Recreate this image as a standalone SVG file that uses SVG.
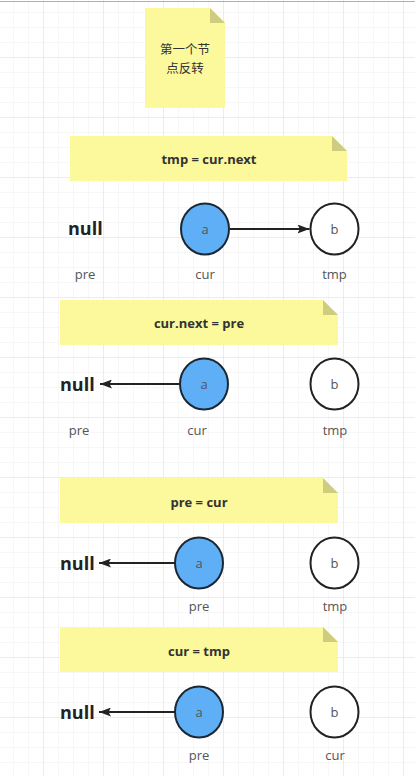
<svg xmlns="http://www.w3.org/2000/svg" width="415" height="776" viewBox="0 0 415 776">
<defs>
<pattern id="minor" x="13" y="12" width="15" height="15" patternUnits="userSpaceOnUse">
<path d="M0 0H15M0 0V15" fill="none" stroke="#efefef" stroke-width="1"/>
</pattern>
<pattern id="major" x="43" y="57" width="60" height="60" patternUnits="userSpaceOnUse">
<path d="M0 0H60M0 0V60" fill="none" stroke="#e2e2e2" stroke-width="1"/>
</pattern>
<marker id="arr" viewBox="0 0 12 9" refX="12" refY="4.5" markerWidth="12" markerHeight="9" markerUnits="userSpaceOnUse" orient="auto">
<path d="M0 0L12 4.5L0 9L2.5 4.5Z" fill="#222"/>
</marker>
</defs>
<style>
.note{fill:#fbf99c}
.fold{fill:#cdcc7f}
.nt{font-family:"Open Sans","Noto Sans",sans-serif;font-weight:bold;font-size:13px;fill:#333;text-anchor:middle}
.cn{font-family:"Noto Sans CJK SC",sans-serif;font-size:12.5px;fill:#333;text-anchor:middle}
.na{fill:#5eaff5;stroke:#1b2733;stroke-width:2}
.nb{fill:#fff;stroke:#222;stroke-width:2}
.lt{font-family:"Open Sans","Noto Sans",sans-serif;font-size:13px;fill:#555;text-anchor:middle}
.null{font-family:"Open Sans","Noto Sans",sans-serif;font-weight:bold;font-size:18px;fill:#222}
.lab{font-family:"Open Sans","Noto Sans",sans-serif;font-size:13px;fill:#555;text-anchor:middle}
.edge{stroke:#222;stroke-width:1.8;fill:none;marker-end:url(#arr)}
</style>
<rect width="415" height="776" fill="#fff"/>
<rect width="415" height="776" fill="url(#minor)"/>
<rect width="415" height="776" fill="url(#major)"/>
<line x1="0" y1="1.5" x2="415" y2="1.5" stroke="#b0b0b0" stroke-width="1"/>

<g id="note1">
<path class="note" d="M145 8H210L225 23V108H145Z"/>
<path class="fold" d="M210 8L225 23H210Z"/>
<text class="cn" x="185" y="54">第一个节</text>
<text class="cn" x="185" y="72.5">点反转</text>
</g>

<g id="note2">
<path class="note" d="M70 136H332L347 151V181H70Z"/>
<path class="fold" d="M332 136L347 151H332Z"/>
<text class="nt" x="209" y="164">tmp = cur.next</text>
</g>

<g id="null1"><text class="null" x="68" y="235">null</text><text class="lab" x="85" y="279">pre</text></g>
<g id="a1"><ellipse class="na" cx="205" cy="229" rx="24" ry="25.5"/><text class="lt" x="205" y="234">a</text><text class="lab" x="205" y="279">cur</text></g>
<g id="b1"><ellipse class="nb" cx="334.5" cy="229" rx="24" ry="25.5"/><text class="lt" x="334.5" y="234">b</text><text class="lab" x="334.5" y="279">tmp</text></g>

<g id="note3">
<path class="note" d="M60 300H323L338 315V345H60Z"/>
<path class="fold" d="M323 300L338 315H323Z"/>
<text class="nt" x="199" y="328">cur.next = pre</text>
</g>

<g id="null2"><text class="null" x="60" y="391">null</text><text class="lab" x="79" y="435">pre</text></g>
<g id="a2"><ellipse class="na" cx="204" cy="384" rx="24" ry="25.5"/><text class="lt" x="204" y="389">a</text><text class="lab" x="197" y="435">cur</text></g>
<g id="b2"><ellipse class="nb" cx="334.5" cy="384" rx="24" ry="25.5"/><text class="lt" x="334.5" y="389">b</text><text class="lab" x="335" y="435">tmp</text></g>

<g id="note4">
<path class="note" d="M60 478H323L338 493V523H60Z"/>
<path class="fold" d="M323 478L338 493H323Z"/>
<text class="nt" x="199" y="507">pre = cur</text>
</g>

<g id="null3"><text class="null" x="60" y="570">null</text></g>
<g id="a3"><ellipse class="na" cx="199" cy="563" rx="24" ry="25.5"/><text class="lt" x="199" y="568">a</text><text class="lab" x="199" y="611">pre</text></g>
<g id="b3"><ellipse class="nb" cx="334.5" cy="563" rx="24" ry="25.5"/><text class="lt" x="334.5" y="568">b</text><text class="lab" x="335" y="611">tmp</text></g>

<g id="note5">
<path class="note" d="M60 627H323L338 642V672H60Z"/>
<path class="fold" d="M323 627L338 642H323Z"/>
<text class="nt" x="199" y="656">cur = tmp</text>
</g>

<g id="null4"><text class="null" x="60" y="719">null</text></g>
<g id="a4"><ellipse class="na" cx="199" cy="712" rx="24" ry="25.5"/><text class="lt" x="199" y="717">a</text><text class="lab" x="199" y="760">pre</text></g>
<g id="b4"><ellipse class="nb" cx="334.5" cy="712" rx="24" ry="25.5"/><text class="lt" x="334.5" y="717">b</text><text class="lab" x="335" y="760">cur</text></g>

<g id="connectors">
<line class="edge" x1="230" y1="229" x2="309.5" y2="229"/>
<line class="edge" x1="180" y1="384" x2="100" y2="384"/>
<line class="edge" x1="175" y1="563" x2="99" y2="563"/>
<line class="edge" x1="175" y1="712" x2="99" y2="712"/>
</g>
</svg>
